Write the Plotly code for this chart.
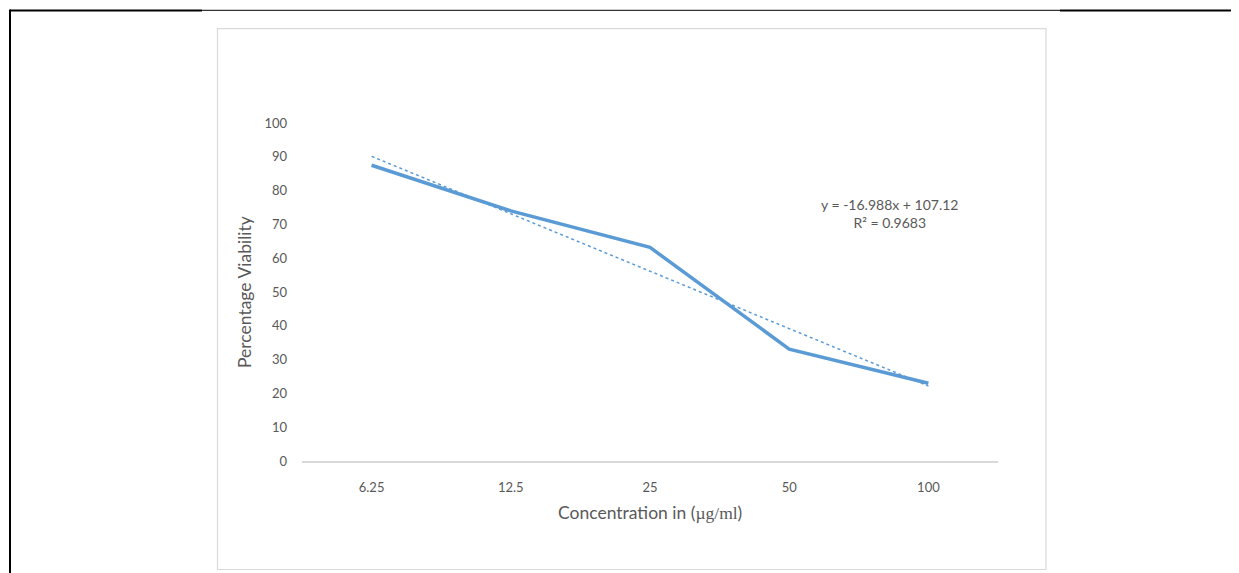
import numpy as np
import plotly.graph_objects as go

# Data
concentrations = ["6.25", "12.5", "25", "50", "100"]
viability = [87.5, 74.0, 63.2, 33.1, 23.0]
y_ticks = [0, 10, 20, 30, 40, 50, 60, 70, 80, 90, 100]
equation_text = "y = -16.988x + 107.12"
r2_text = "R² = 0.9683"

# Linear trendline on category index (1..5), as Excel does
idx = np.arange(1, len(viability) + 1)
slope, intercept = np.polyfit(idx, viability, 1)
trend = slope * idx + intercept

OFF = 8  # browser body margin
W, H = 1239 - OFF, 573 - OFF
L, R, T, B = 302 - OFF, 998 - OFF, 123.3 - OFF, 460.7 - OFF  # plot area pixels

def px(x):
    return (x - OFF - L) / (R - L)

def py(y):
    return (B - (y - OFF)) / (B - T)

BLUE = "#5B9BD5"
GRAY = "#595959"
FONT = "Lato"

fig = go.Figure()
fig.add_trace(go.Scatter(
    x=concentrations, y=viability, mode="lines",
    line=dict(color=BLUE, width=3.5), showlegend=False,
))
fig.add_trace(go.Scatter(
    x=concentrations, y=trend, mode="lines",
    line=dict(color=BLUE, width=1.5, dash="dot"), showlegend=False,
))

shapes = []
# inner chart border
shapes.append(dict(type="rect", xref="paper", yref="paper",
                   x0=px(217.5), x1=px(1046), y0=py(569), y1=py(29),
                   line=dict(color="#D9D9D9", width=1.2), fillcolor="rgba(0,0,0,0)", layer="below"))
# outer page frame lines
shapes.append(dict(type="line", xref="paper", yref="paper",
                   x0=px(10), x1=px(202), y0=py(11), y1=py(11), line=dict(color="black", width=2)))
shapes.append(dict(type="line", xref="paper", yref="paper",
                   x0=px(202), x1=px(1060), y0=py(10.8), y1=py(10.8), line=dict(color="black", width=1)))
shapes.append(dict(type="line", xref="paper", yref="paper",
                   x0=px(1060), x1=px(1238), y0=py(11), y1=py(11), line=dict(color="black", width=2)))
shapes.append(dict(type="line", xref="paper", yref="paper",
                   x0=px(10), x1=px(10), y0=py(10), y1=py(580), line=dict(color="black", width=2)))

annotations = [
    dict(text="Percentage Viability", xref="paper", yref="paper", x=px(244), y=py(292),
         textangle=-90, showarrow=False, font=dict(family=FONT, size=17.5, color=GRAY),
         xanchor="center", yanchor="middle"),
    dict(text='Concentration in (<span style="font-family:Liberation Serif">µg/ml</span>)',
         xref="paper", yref="paper", x=px(650), y=py(512), showarrow=False,
         font=dict(family=FONT, size=17.5, color=GRAY), xanchor="center", yanchor="middle"),
    dict(text=f"{equation_text}<br>{r2_text}",
         xref="paper", yref="paper", x=px(889), y=py(214), showarrow=False,
         font=dict(family=FONT, size=14, color=GRAY), xanchor="center", yanchor="middle",
         align="center"),
]

fig.update_layout(
    width=W, height=H,
    margin=dict(l=L, r=W - R, t=T, b=H - B, pad=0),
    paper_bgcolor="white", plot_bgcolor="white",
    shapes=shapes, annotations=annotations,
    font=dict(family=FONT, size=13, color=GRAY),
)
fig.update_xaxes(
    type="category", range=[-0.5, 4.5], showgrid=False, zeroline=False,
    showline=True, linecolor="#D9D9D9", linewidth=1.5,
    ticks="", tickfont=dict(family=FONT, size=13, color=GRAY), ticklabelstandoff=14,
)
fig.update_yaxes(
    range=[0, 100], tickvals=y_ticks, showgrid=False, zeroline=False, showline=False,
    ticks="", tickfont=dict(family=FONT, size=13, color=GRAY), ticklabelstandoff=14,
)

fig.write_html("out.html")
